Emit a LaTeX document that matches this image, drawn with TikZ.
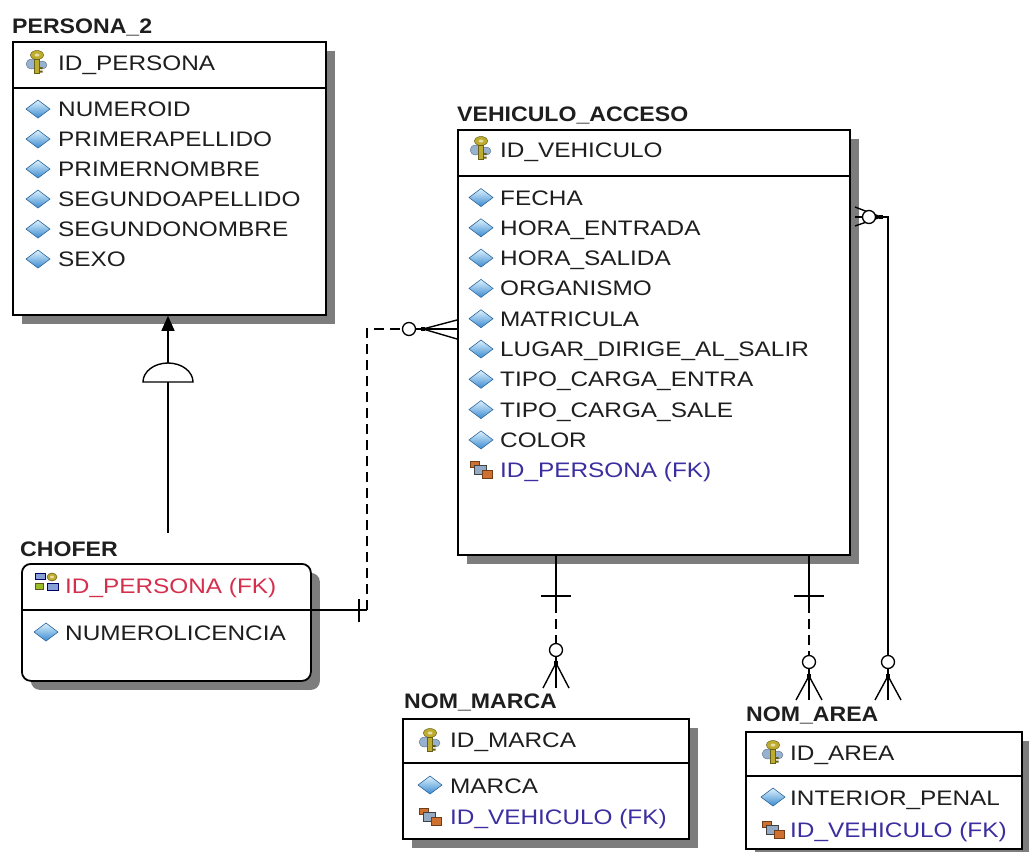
\documentclass[tikz,border=0pt]{standalone}
\usepackage{fontspec}
\setmainfont{Liberation Sans}[FakeStretch=1.16]
\newfontfamily\titlefamily{Liberation Sans}[FakeStretch=1.10]
\usetikzlibrary{arrows.meta,shadows,calc}

\newcommand\rowfont{\fontsize{21}{25}\selectfont}
\newcommand\ttlfont{\titlefamily\bfseries\fontsize{21}{25}\selectfont}

\definecolor{ink}{RGB}{30,30,30}
\definecolor{fkblue}{RGB}{58,46,160}
\definecolor{fkred}{RGB}{212,48,78}
\definecolor{shadowgray}{RGB}{125,125,125}
\definecolor{diamtop}{RGB}{222,242,253}
\definecolor{diambot}{RGB}{58,138,208}
\definecolor{keygold}{RGB}{190,172,46}
\definecolor{keyblue}{RGB}{150,178,208}
\definecolor{fkbrown}{RGB}{206,112,48}

\tikzset{
  entbox/.style={draw=black, line width=1.8pt, fill=white, inner sep=0pt,
    anchor=north west,
    drop shadow={shadow xshift=9pt, shadow yshift=-9pt, fill=shadowgray, opacity=1}},
  sepline/.style={draw=black, line width=1.8pt},
  title/.style={anchor=base west, inner sep=0pt, font=\ttlfont, text=ink},
  txt/.style={anchor=base west, inner sep=0pt, font=\rowfont, text=ink},
  fktxt/.style={txt, text=fkblue},
  conn/.style={draw=black, line width=1.4pt},
  dashconn/.style={conn, dash pattern=on 10pt off 6pt},
  crowcirc/.style={circle, draw=black, line width=1.3pt, fill=white,
    minimum size=13pt, inner sep=0pt},
  crowdot/.style={rectangle, fill=black, minimum size=4.5pt, inner sep=0pt},
  % attribute marker: shaded blue diamond
  diam/.pic={
    \path[draw=diambot!75!black, line width=0.6pt, top color=diamtop, bottom color=diambot]
      (-12,0) -- (0,-9) -- (12,0) -- (0,9) -- cycle;
  },
  % primary key marker
  pkkey/.pic={
    \fill[keyblue, draw=keyblue!60!black, line width=0.4pt] (-5,2) ellipse[x radius=6, y radius=5];
    \fill[keyblue, draw=keyblue!60!black, line width=0.4pt] (5,3) ellipse[x radius=5, y radius=4];
    \fill[keygold, draw=keygold!55!black, line width=0.5pt] (0,-7) ellipse[x radius=6.5, y radius=4.5];
    \fill[keygold!40!white] (0,-7) ellipse[x radius=2.5, y radius=1.5];
    \fill[keygold, draw=keygold!55!black, line width=0.5pt] (-2.5,-3) rectangle (2.5,11);
    \fill[keygold!55!black] (2.5,5) rectangle (5.5,7) (2.5,8.5) rectangle (5.5,10.5);
  },
  % foreign key marker
  fkicon/.pic={
    \fill[fkbrown, draw=fkbrown!55!black, line width=0.5pt] (-11,-8) rectangle (-2,-2);
    \fill[keyblue!85!gray, draw=gray!50!black, line width=0.5pt] (-7,-4) rectangle (5,5);
    \fill[fkbrown, draw=fkbrown!55!black, line width=0.5pt] (1,1) rectangle (11,9);
  },
  % primary + foreign key marker
  pfkicon/.pic={
    \fill[keyblue!90!blue, draw=blue!40!black, line width=0.5pt] (-12,-9) rectangle (-2,-3);
    \fill[keygold!80!green, draw=keygold!50!black, line width=0.5pt] (-12,1) rectangle (-4,7);
    \fill[keygold, draw=keygold!55!black, line width=0.5pt] (5,-5) ellipse[x radius=5, y radius=4];
    \fill[keygold!40!white] (5,-5) ellipse[x radius=2, y radius=1.3];
    \fill[keyblue!90!blue, draw=blue!40!black, line width=0.5pt] (0,1) rectangle (11,8);
  }
}

\begin{document}
\begin{tikzpicture}[x=1pt, y=-1pt]
\useasboundingbox (0,0) rectangle (1029,852);
\fill[white] (0,0) rectangle (1029,852);

% ---------------- PERSONA_2 ----------------
\node[title] (persona-t) at (12,33) {PERSONA\_2};
\node[entbox, minimum width=313pt, minimum height=273pt] (persona) at (12,41) {};
\draw[sepline] ($(persona.north west)+(0,47)$) -- ($(persona.north east)+(0,47)$);
\pic at (37,62) {pkkey};
\node[txt] (persona-pk) at (58,70) {ID\_PERSONA};
\foreach \t [count=\i from 0] in {NUMEROID, PRIMERAPELLIDO, PRIMERNOMBRE,
    SEGUNDOAPELLIDO, SEGUNDONOMBRE, SEXO} {
  \pic at (38,{109+30*\i}) {diam};
  \node[txt] (persona-a\i) at (58,{116.5+30*\i}) {\t};
}

% ---------------- VEHICULO_ACCESO ----------------
\node[title] (vehiculo-t) at (457,121) {VEHICULO\_ACCESO};
\node[entbox, minimum width=392pt, minimum height=425pt] (vehiculo) at (457,129) {};
\draw[sepline] ($(vehiculo.north west)+(0,47)$) -- ($(vehiculo.north east)+(0,47)$);
\pic at (481,148) {pkkey};
\node[txt] (vehiculo-pk) at (500,157.5) {ID\_VEHICULO};
\foreach \t [count=\i from 0] in {FECHA, HORA\_ENTRADA, HORA\_SALIDA, ORGANISMO,
    MATRICULA, LUGAR\_DIRIGE\_AL\_SALIR, TIPO\_CARGA\_ENTRA, TIPO\_CARGA\_SALE, COLOR} {
  \pic at (481,{197.5+30.3*\i}) {diam};
  \node[txt] (vehiculo-a\i) at (500,{205+30.3*\i}) {\t};
}
\pic at (481,469) {fkicon};
\node[fktxt] (vehiculo-fk) at (500,477.5) {ID\_PERSONA (FK)};

% ---------------- CHOFER ----------------
\node[title] (chofer-t) at (20,556) {CHOFER};
\node[entbox, rounded corners=9pt, minimum width=289pt, minimum height=117pt] (chofer) at (21,563) {};
\draw[sepline] ($(chofer.north west)+(0,47)$) -- ($(chofer.north east)+(0,47)$);
\pic at (47,582) {pfkicon};
\node[txt, text=fkred] (chofer-pk) at (65,593) {ID\_PERSONA (FK)};
\pic at (46,632) {diam};
\node[txt] (chofer-a0) at (65,640) {NUMEROLICENCIA};

% ---------------- NOM_MARCA ----------------
\node[title] (marca-t) at (404,708) {NOM\_MARCA};
\node[entbox, minimum width=286pt, minimum height=120pt] (marca) at (402,718) {};
\draw[sepline] ($(marca.north west)+(0,45)$) -- ($(marca.north east)+(0,45)$);
\pic at (430,740) {pkkey};
\node[txt] (marca-pk) at (450,747) {ID\_MARCA};
\pic at (430,785) {diam};
\node[txt] (marca-a0) at (450,793) {MARCA};
\pic at (430,816) {fkicon};
\node[fktxt] (marca-fk) at (450,824) {ID\_VEHICULO (FK)};

% ---------------- NOM_AREA ----------------
\node[title] (area-t) at (746,721) {NOM\_AREA};
\node[entbox, minimum width=276pt, minimum height=117pt] (area) at (745,731) {};
\draw[sepline] ($(area.north west)+(0,45)$) -- ($(area.north east)+(0,45)$);
\pic at (773,752) {pkkey};
\node[txt] (area-pk) at (790,760) {ID\_AREA};
\pic at (773,797) {diam};
\node[txt] (area-a0) at (790,805) {INTERIOR\_PENAL};
\pic at (773,829) {fkicon};
\node[fktxt] (area-fk) at (790,837) {ID\_VEHICULO (FK)};

% ---------------- CHOFER is a PERSONA_2 ----------------
\coordinate (inh-a) at (168,533);
\draw[conn, -{Triangle[width=13pt,length=15pt]}] (inh-a) -- (inh-a |- persona.south);
\draw[conn, fill=white] (143,382) arc[start angle=180, end angle=0, x radius=25pt, y radius=19pt] -- cycle;

% ---------------- CHOFER -> VEHICULO_ACCESO ----------------
\coordinate (cv-corner) at (367,610);
\node[crowdot] (cv-dot) at (423,329) {};
\draw[conn] (chofer.east |- cv-corner) -- (cv-corner);
\draw[conn] ($(cv-corner)+(-8,-11)$) -- ($(cv-corner)+(-8,12)$);
\draw[dashconn] (cv-corner) -- (cv-corner |- cv-dot) -- (402,329);
\node[crowcirc] (cv-circ) at (409,329) {};
\draw[conn] (cv-circ.east) -- (cv-dot.center);
\draw[conn] (cv-dot.center) -- ($(vehiculo.west |- cv-dot)+(0,-9)$);
\draw[conn] (cv-dot.center) -- (vehiculo.west |- cv-dot);
\draw[conn] (cv-dot.center) -- ($(vehiculo.west |- cv-dot)+(0,10)$);

% ---------------- VEHICULO_ACCESO -> NOM_MARCA ----------------
\node[crowcirc] (vm-circ) at (556,650) {};
\node[crowdot] (vm-dot) at (556,663) {};
\coordinate (vm-foot) at (556,688);
\coordinate (vm-top) at (vehiculo.south -| vm-circ);
\draw[conn] (vm-top) -- ($(vm-top)+(0,47)$);
\draw[conn] ($(vm-top)+(-15,40)$) -- ($(vm-top)+(15,40)$);
\draw[dashconn] ($(vm-top)+(0,47)$) -- (vm-circ.north);
\draw[conn] (vm-circ.south) -- (vm-dot.center);
\draw[conn] (vm-dot.center) -- ($(vm-foot)+(-13,0)$);
\draw[conn] (vm-dot.center) -- (vm-foot);
\draw[conn] (vm-dot.center) -- ($(vm-foot)+(13,0)$);

% ---------------- VEHICULO_ACCESO -> NOM_AREA (dashed) ----------------
\node[crowcirc] (va1-circ) at (809,662) {};
\node[crowdot] (va1-dot) at (809,676) {};
\coordinate (va1-foot) at (809,700);
\coordinate (va1-top) at (vehiculo.south -| va1-circ);
\draw[conn] (va1-top) -- ($(va1-top)+(0,47)$);
\draw[conn] ($(va1-top)+(-15,40)$) -- ($(va1-top)+(15,40)$);
\draw[dashconn] ($(va1-top)+(0,47)$) -- (va1-circ.north);
\draw[conn] (va1-circ.south) -- (va1-dot.center);
\draw[conn] (va1-dot.center) -- ($(va1-foot)+(-13,0)$);
\draw[conn] (va1-dot.center) -- (va1-foot);
\draw[conn] (va1-dot.center) -- ($(va1-foot)+(13,0)$);

% ---------------- NOM_AREA -> VEHICULO_ACCESO (solid) ----------------
\node[crowdot] (va2-tdot) at (881,217) {};
\draw[conn] (va2-tdot.center) -- (855,207);
\draw[conn] (va2-tdot.center) -- (855,217);
\draw[conn] (va2-tdot.center) -- (855,226);
\node[crowcirc] (va2-tcirc) at (869,217) {};
\node[crowcirc] (va2-circ) at (888,662) {};
\node[crowdot] (va2-dot) at (888,676) {};
\coordinate (va2-foot) at (888,700);
\draw[conn] (va2-tdot.center) -- (va2-tdot -| va2-circ) -- (va2-circ.north);
\draw[conn] (va2-circ.south) -- (va2-dot.center);
\draw[conn] (va2-dot.center) -- ($(va2-foot)+(-13,0)$);
\draw[conn] (va2-dot.center) -- (va2-foot);
\draw[conn] (va2-dot.center) -- ($(va2-foot)+(13,0)$);
\end{tikzpicture}
\end{document}
